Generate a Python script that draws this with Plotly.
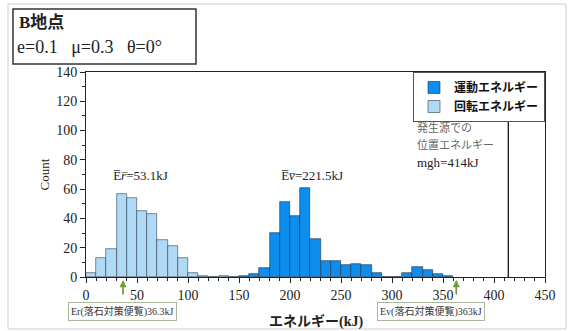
import plotly.graph_objects as go

# Histogram counts per 10 kJ bin (left edge of each bin)
rot_bins = [0, 10, 20, 30, 40, 50, 60, 70, 80, 90, 100, 110, 120, 130, 140]
rot_counts = [3, 13, 19, 57, 54, 45, 43, 25, 21, 13, 3, 1, 0, 1, 0]

kin_bins = [150, 160, 170, 180, 190, 200, 210, 220, 230, 240, 250, 260, 270,
            280, 290, 300, 310, 320, 330, 340, 350]
kin_counts = [1, 2, 6, 30, 51, 42, 61, 26, 11, 11, 8, 9, 8,
              3, 0, 0, 3, 7, 5, 2, 1]

BIN_W = 10
mean_rot = 53.1      # kJ
mean_kin = 221.5     # kJ
manual_rot = 36.3    # kJ, design value
manual_kin = 363     # kJ, design value
mgh = 414            # kJ, potential energy at source

x_ticks = [0, 50, 100, 150, 200, 250, 300, 350, 400, 450]
y_ticks = [0, 20, 40, 60, 80, 100, 120, 140]

SERIF = "Liberation Serif, 'Noto Sans CJK JP', serif"
JP = "'Noto Sans CJK JP', Liberation Serif, sans-serif"

# plot area in pixels
L, R, T, B = 86, 545, 72, 277
W, H = 576, 331


def px_x(p):
    return (p - L) / (R - L)


def px_y(p):
    return (B - p) / (B - T)


fig = go.Figure()
fig.add_trace(go.Bar(
    x=[b + BIN_W / 2 for b in kin_bins], y=kin_counts, width=BIN_W,
    name="運動エネルギー",
    marker=dict(color="#0b8ef0", line=dict(color="#203040", width=0.6)),
))
fig.add_trace(go.Bar(
    x=[b + BIN_W / 2 for b in rot_bins], y=rot_counts, width=BIN_W,
    name="回転エネルギー",
    marker=dict(color="#b0d9f5", line=dict(color="#304050", width=0.6)),
))

# potential-energy marker
fig.add_shape(type="line", xref="x", yref="paper", x0=mgh, x1=mgh, y0=0, y1=1,
              line=dict(color="black", width=1.2), layer="below")

# outer frame and title box
fig.add_shape(type="rect", xref="paper", yref="paper",
              x0=px_x(8), x1=px_x(566), y0=px_y(329), y1=px_y(4),
              line=dict(color="#cfcfcf", width=1))
fig.add_shape(type="rect", xref="paper", yref="paper",
              x0=px_x(13), x1=px_x(196), y0=px_y(64), y1=px_y(9),
              line=dict(color="#333333", width=1.5), fillcolor="white")

ann = []
ann.append(dict(xref="paper", yref="paper", x=px_x(17), y=px_y(22),
                xanchor="left", yanchor="middle", showarrow=False,
                text="<b>B地点</b>", font=dict(family=SERIF, size=17, color="#222")))
ann.append(dict(xref="paper", yref="paper", x=px_x(15), y=px_y(47),
                xanchor="left", yanchor="middle", showarrow=False,
                text="e=0.1\u2002 μ=0.3\u2002 θ=0°", font=dict(family=SERIF, size=18, color="#222")))

# mean labels
ann.append(dict(xref="x", yref="y", x=mean_rot, y=69, showarrow=False,
                xanchor="center", yanchor="middle",
                text="E\u0305<i>r\u0305</i>=%.1fkJ" % mean_rot,
                font=dict(family=SERIF, size=13, color="#222")))
ann.append(dict(xref="x", yref="y", x=mean_kin, y=69, showarrow=False,
                xanchor="center", yanchor="middle",
                text="E\u0305<i>v\u0305</i>=%.1fkJ" % mean_kin,
                font=dict(family=SERIF, size=13, color="#222")))

# mgh note
ann.append(dict(xref="paper", yref="paper", x=px_x(415), y=px_y(127),
                xanchor="left", yanchor="middle", showarrow=False,
                text="発生源での", font=dict(family=JP, size=11, color="#666")))
ann.append(dict(xref="paper", yref="paper", x=px_x(415), y=px_y(144),
                xanchor="left", yanchor="middle", showarrow=False,
                text="位置エネルギー", font=dict(family=JP, size=11, color="#666")))
ann.append(dict(xref="paper", yref="paper", x=px_x(415), y=px_y(162),
                xanchor="left", yanchor="middle", showarrow=False,
                text="mgh=%dkJ" % mgh, font=dict(family=SERIF, size=13, color="#222")))

# design-value arrows below the axis
for xv in (manual_rot, manual_kin):
    ann.append(dict(xref="x", yref="paper", x=xv, y=px_y(280),
                    ax=0, ay=16, showarrow=True, arrowhead=2, arrowsize=0.8,
                    arrowwidth=1.8, arrowcolor="#6f9e3c", text=""))

ann.append(dict(xref="paper", yref="paper", x=px_x(122), y=px_y(311),
                xanchor="center", yanchor="middle", showarrow=False,
                text="Er(落石対策便覧)%.1fkJ" % manual_rot,
                font=dict(family=SERIF, size=10, color="#333"),
                bordercolor="#a9b8a0", borderwidth=1, borderpad=2, bgcolor="white"))
ann.append(dict(xref="paper", yref="paper", x=px_x(431), y=px_y(311),
                xanchor="center", yanchor="middle", showarrow=False,
                text="Ev(落石対策便覧)%dkJ" % manual_kin,
                font=dict(family=SERIF, size=10, color="#333"),
                bordercolor="#a9b8a0", borderwidth=1, borderpad=2, bgcolor="white"))

# axis titles
ann.append(dict(xref="paper", yref="paper", x=0.5, y=px_y(322),
                xanchor="center", yanchor="middle", showarrow=False,
                text="<b>エネルギー(kJ)</b>", font=dict(family=SERIF, size=14, color="#222")))
ann.append(dict(xref="paper", yref="paper", x=px_x(44), y=0.5,
                xanchor="center", yanchor="middle", showarrow=False, textangle=-90,
                text="Count", font=dict(family=SERIF, size=13, color="#222")))

axis_common = dict(
    showgrid=False, zeroline=False, showline=True, linecolor="#222", linewidth=1,
    mirror=True, ticks="outside", ticklen=5, tickwidth=1, tickcolor="#222",
    tickfont=dict(family=SERIF, size=14, color="#222"),
)

fig.update_layout(
    width=W, height=H,
    margin=dict(l=L, r=W - R, t=T, b=H - B, pad=0),
    paper_bgcolor="white", plot_bgcolor="white",
    barmode="overlay", bargap=0,
    xaxis=dict(range=[0, 450], tickvals=x_ticks,
               minor=dict(dtick=10, ticks="outside", ticklen=3, tickcolor="#222"),
               **axis_common),
    yaxis=dict(range=[0, 140], tickvals=y_ticks,
               minor=dict(dtick=10, ticks="outside", ticklen=3, tickcolor="#222"),
               **axis_common),
    legend=dict(x=1, xanchor="right", y=1, yanchor="top",
                bordercolor="#555", borderwidth=1, bgcolor="white",
                font=dict(family=JP, size=12, color="#111", weight="bold"),
                itemwidth=30, tracegroupgap=0),
    annotations=ann,
    showlegend=True,
)

fig.write_html("out.html")
